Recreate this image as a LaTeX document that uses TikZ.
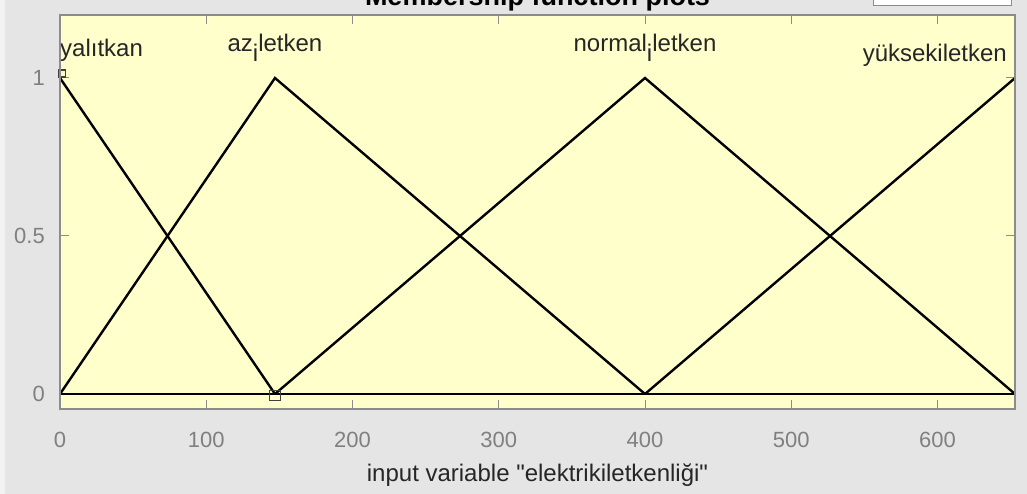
\documentclass[tikz,border=0pt]{standalone}
\usepackage{fontspec}
\setmainfont{Liberation Sans}[Ligatures=TeXOff]
\usetikzlibrary{positioning}
\definecolor{panel}{RGB}{229,229,229}
\definecolor{plotbg}{RGB}{255,255,204}
\definecolor{framegray}{RGB}{140,140,140}
\definecolor{ticktext}{RGB}{128,128,128}
\definecolor{labeltext}{RGB}{38,38,38}
\tikzset{
  mfline/.style={line width=2.4pt, black},
  ticklab/.style={text=ticktext, font=\fontsize{22}{22}\selectfont, inner sep=0pt},
  mflab/.style={text=labeltext, font=\fontsize{24}{24}\selectfont, inner sep=0pt},
  vmark/.style={draw=black!75, line width=1.1pt, inner sep=0pt}
}

\begin{document}
\begin{tikzpicture}[x=1pt,y=1pt]
    \clip (0,0) rectangle (1027,494);
    \fill[panel] (0,0) rectangle (1027,494);
    \fill[black!5] (0,0) rectangle (5,494);
    \node[draw=framegray, fill=white, minimum width=138pt, minimum height=16pt, anchor=south west] (menu) at (873,489) {};
    \node[font=\bfseries\fontsize{27}{27}\selectfont, anchor=base, inner sep=0pt] (title) at (537.5,488) {Membership function plots};
    \node[font=\fontsize{24}{24}\selectfont, text=labeltext, anchor=base, inner sep=0pt] (xlab) at (537.5,12) {input variable "elektrikiletkenliği"};
\begin{scope}[shift={(60,100)}, x=1.4625pt, y=316pt]
    \fill[plotbg] (0,-0.0475) rectangle (653,1.199);
    % ticks and tick labels
    \foreach \t in {0,100,...,600} {
      \draw[framegray, line width=1pt] (\t,-0.0475) -- ++(0,9pt);
      \draw[framegray, line width=1pt] (\t,1.199) -- ++(0,-9pt);
      \node[ticklab, anchor=base, yshift=-53.3pt] (xt\t) at (\t,0) {\t};
    }
    \foreach \v/\n in {0/a,0.5/b,1/c} {
      \draw[framegray, line width=1pt] (0,\v) -- ++(9pt,0);
      \draw[framegray, line width=1pt] (653,\v) -- ++(-9pt,0);
      \node[ticklab, anchor=east, xshift=-15pt] (yt\n) at (0,\v) {\v};
    }
    % membership function corners
    \coordinate (o) at (0,0);
    \coordinate (top0) at (0,1);
    \coordinate (low1) at (147,0);
    \coordinate (top1) at (147,1);
    \coordinate (low2) at (400,0);
    \coordinate (top2) at (400,1);
    \coordinate (end) at (653,0);
    \coordinate (top3) at (653,1);
    \draw[mfline] (o) -- (end);
    \draw[mfline] (top0) -- (low1);
    \draw[mfline] (o) -- (top1) -- (low2);
    \draw[mfline] (low1) -- (top2) -- (end);
    \draw[mfline] (low2) -- (top3);
    \node[vmark, minimum width=7pt, minimum height=7pt, xshift=2pt, yshift=4.5pt] (sel0) at (top0) {};
    \node[vmark, minimum width=11pt, minimum height=10pt, yshift=-1.5pt] (sel1) at (low1) {};
    % labels
    \node[mflab, anchor=base west, yshift=21.3pt] (yalitkan) at (top0) {yalıtkan};
    \node[mflab, anchor=base, yshift=26.3pt] (aziletken) at (top1) {az\raisebox{-10pt}{i}letken};
    \node[mflab, anchor=base, yshift=26.3pt] (normaliletken) at (top2) {normal\raisebox{-10pt}{i}letken};
    \node[mflab, anchor=base east, xshift=-8pt, yshift=16.3pt] (yuksek) at (top3) {yüksekiletken};
    \draw[framegray, line width=1.5pt] (0,-0.0475) rectangle (653,1.199);
\end{scope}
\end{tikzpicture}
\end{document}
